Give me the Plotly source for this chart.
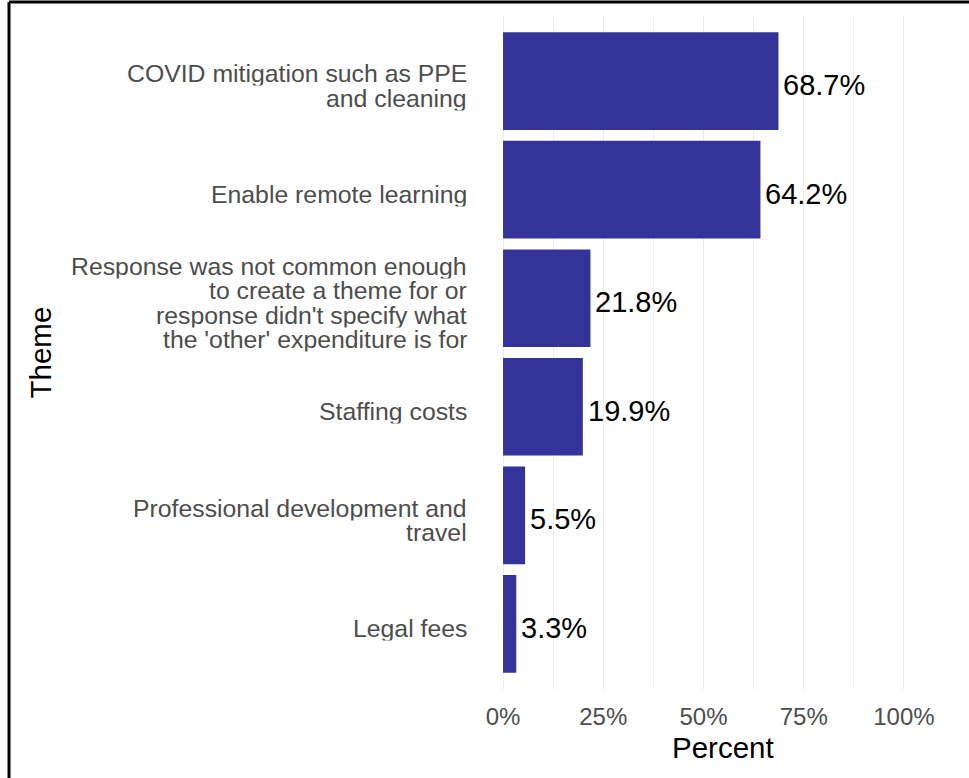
import plotly.graph_objects as go

# ---- data ----
themes = [
    "COVID mitigation such as PPE<br>and cleaning",
    "Enable remote learning",
    "Response was not common enough<br>to create a theme for or<br>response didn't specify what<br>the 'other' expenditure is for",
    "Staffing costs",
    "Professional development and<br>travel",
    "Legal fees",
]
percent = [68.7, 64.2, 21.8, 19.9, 5.5, 3.3]
x_tick_vals = [0, 25, 50, 75, 100]
x_tick_text = ["0%", "25%", "50%", "75%", "100%"]

# ---- layout geometry (body margin removed via post_script) ----
W, H = 969, 778
L, R, T, B = 483, 45, 16, 89
PW, PH = W - L - R, H - T - B
FONT = "Liberation Sans, Arial, sans-serif"
BAR = "#333399"
GRID = "#EBEBEB"

def px_x(px):
    return (px - L) / PW

def px_y(py):
    return (H - B - py) / PH

fig = go.Figure(go.Bar(
    x=percent,
    y=themes,
    orientation="h",
    marker=dict(color=BAR, line=dict(width=0)),
    hoverinfo="skip",
))

annotations = []
# value labels next to the bars
for cat, v in zip(themes, percent):
    annotations.append(dict(
        text=f"{v:.1f}%", xref="x", x=v, xanchor="left", xshift=3,
        yref="y", y=cat, yanchor="middle", yshift=-4,
        showarrow=False, font=dict(family=FONT, size=29, color="black"),
    ))
# y tick labels (multi-line, tight line spacing)
LINE = 24.5
for cat in themes:
    lines = cat.split("<br>")
    n = len(lines)
    for j, ln in enumerate(lines):
        annotations.append(dict(
            text=ln, xref="paper", x=0, xanchor="right", xshift=-14,
            yref="y", y=cat, yanchor="middle", height=LINE,
            yshift=-((j - (n - 1) / 2) * LINE) - 5,
            showarrow=False, align="right",
            font=dict(family=FONT, size=24.8, color="#4D4D4D"),
        ))
# axis titles
annotations.append(dict(
    text="Theme", xref="paper", yref="paper", x=px_x(40), y=0.5,
    xanchor="center", yanchor="middle", textangle=-90, showarrow=False,
    font=dict(family=FONT, size=29.5, color="black"),
))
annotations.append(dict(
    text="Percent", xref="paper", yref="paper", x=px_x(723), y=px_y(748),
    xanchor="center", yanchor="middle", showarrow=False,
    font=dict(family=FONT, size=29.5, color="black"),
))

fig.update_layout(
    width=W, height=H,
    margin=dict(l=L, r=R, t=T, b=B, autoexpand=False),
    paper_bgcolor="white", plot_bgcolor="white",
    bargap=0.1,
    showlegend=False,
    annotations=annotations,
    shapes=[
        dict(type="line", xref="paper", yref="paper",
             x0=px_x(9), x1=px_x(9), y0=px_y(830), y1=px_y(2),
             line=dict(color="black", width=3)),
        dict(type="line", xref="paper", yref="paper",
             x0=px_x(9), x1=px_x(1020), y0=px_y(2), y1=px_y(2),
             line=dict(color="black", width=3)),
    ],
    xaxis=dict(
        range=[-5, 105],
        tickvals=x_tick_vals, ticktext=x_tick_text,
        showgrid=True, gridcolor=GRID, gridwidth=1,
        minor=dict(dtick=12.5, tick0=0, showgrid=True, gridcolor=GRID, gridwidth=1),
        zeroline=False, showline=False, ticks="",
        ticklabelstandoff=11,
        tickfont=dict(family=FONT, size=24, color="#4D4D4D"),
        fixedrange=True,
    ),
    yaxis=dict(
        type="category",
        categoryorder="array", categoryarray=themes,
        range=[len(themes) - 0.4, -0.6],
        showticklabels=False, showgrid=False, zeroline=False,
        showline=False, ticks="", fixedrange=True,
    ),
)

fig.write_html(
    "out.html",
    config={"displayModeBar": False},
    post_script="document.body.style.margin='0';document.body.style.overflow='hidden';",
)
